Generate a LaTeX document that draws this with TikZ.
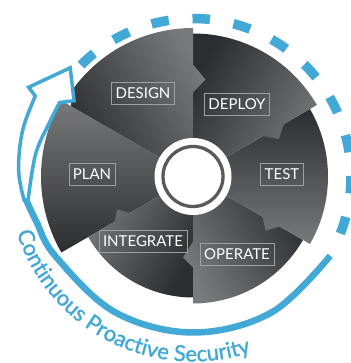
\documentclass[tikz,border=0pt]{standalone}
\usepackage{fontspec}
\setmainfont{Lato}
\newfontfamily\arcfont{Lato}[FakeBold=1.2]
\usetikzlibrary{decorations.text}
\definecolor{arcblue}{RGB}{66,168,214}
\definecolor{pdark}{RGB}{44,45,48}
\definecolor{plight}{RGB}{120,121,123}
\definecolor{ringgray}{RGB}{88,89,91}
\definecolor{boxline}{RGB}{160,160,162}
\begin{document}
\begin{tikzpicture}[x=1pt,y=1pt,
  piece/.style={top color=pdark, bottom color=plight, shading angle=#1},
  stagebox/.style={draw=boxline, line width=0.6pt, text=white, font=\fontsize{15}{18}\selectfont, inner xsep=4pt, inner ysep=0pt, minimum height=22pt},
  bandline/.style={arcblue, line width=6.5pt},
  dashring/.style={arcblue, line width=9.5pt, dash pattern=on 17.5pt off 23.86pt},
  hollow/.style={draw=arcblue, fill=white, line width=3.5pt, line join=miter},
]
\fill[white] (0,0) rectangle (350,363);
\useasboundingbox (0,0) rectangle (350,363);
\coordinate (C) at (193,186.5);
\begin{scope}[shift={(C)}]
  % PLAN
  \shade[piece=180] (0,0) -- (210:152) arc[start angle=210, end angle=150, radius=152] -- cycle;
  % INTEGRATE
  \shade[piece=240] (0,0) -- (270:121) arc[start angle=270, end angle=210, radius=121] -- (210:90.5) -- ([shift={(120:9.3)}]210:82) -- (210:72.6) -- cycle;
  % OPERATE
  \shade[piece=-60] (0,0) -- (330:127) arc[start angle=330, end angle=270, radius=127] -- (270:91) -- ([shift={(180:10)}]270:81) -- (270:65) -- cycle;
  % TEST
  \shade[piece=0] (0,0) -- (30:135) arc[start angle=30, end angle=-30, radius=135] -- (-30:100) -- ([shift={(-120:10.5)}]-30:90) -- (-30:80) -- cycle;
  % DEPLOY
  \shade[piece=60] (0,0) -- (90:143) arc[start angle=90, end angle=30, radius=143] -- (30:105) -- ([shift={(-60:10.5)}]30:93) -- (30:81) -- cycle;
  % DESIGN
  \shade[piece=120] (0,0) -- (150:141) -- (144.3:148.5) arc[start angle=144.3, end angle=90, radius=148.5] -- (90:112) -- ([shift={(0:12.5)}]90:97) -- (90:84) -- cycle;

  % dashed part of the ring
  \draw[dashring] (135.17:158) arc[start angle=135.17, end angle=-22, radius=158];
  % solid band
  \draw[bandline] plot[smooth, tension=0.6] coordinates {(-30:158.5) (-60:157) (-90:156) (-120:156.5) (-150:159) (-164:163) (-172:168.5)};
  % hollow arrow
  \draw[hollow] (-172:170.5) -- plot[smooth, tension=0.6] coordinates {(-172:170.5) (178:174.5) (165:176.5) (153:177)}
     -- (151.5:187) -- (138.5:164) -- (147.5:141) -- (151:152.5)
     -- plot[smooth, tension=0.6] coordinates {(151:152.5) (160:153.5) (172:159) (-172:166.5)} -- cycle;

  \path[decorate, decoration={text along path, text color=arcblue, text align=center,
     text={|\arcfont\fontsize{22}{26}\selectfont|Continuous Proactive Security}}]
     (196:185) arc[start angle=196, end angle=290, radius=185];
\end{scope}

\node[circle, fill=white, minimum size=77pt, inner sep=0pt] (hub) at (C) {};
\node[circle, draw=ringgray, line width=3.3pt, fill=white, minimum size=60pt, inner sep=0pt] (ring) at (C) {};

\node[stagebox] (design) at (143,270) {DESIGN};
\node[stagebox] (deploy) at (237,259) {DEPLOY};
\node[stagebox] (test) at (282,189) {TEST};
\node[stagebox] (operate) at (237,109) {OPERATE};
\node[stagebox] (integrate) at (143,121.5) {INTEGRATE};
\node[stagebox] (plan) at (92,189) {PLAN};
\end{tikzpicture}
\end{document}
